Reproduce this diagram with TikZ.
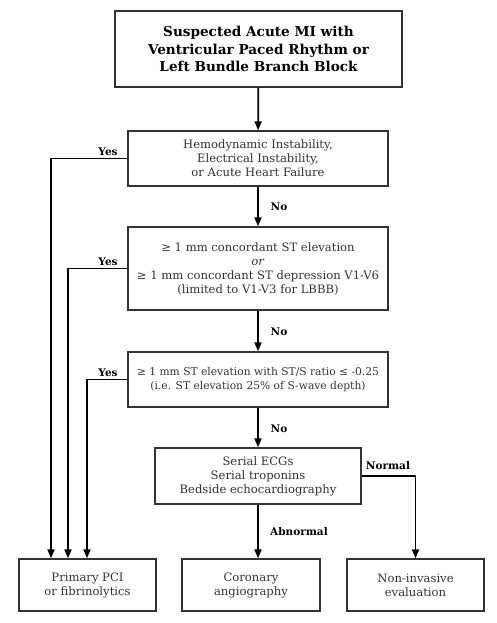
\documentclass[tikz,border=0pt]{standalone}
\usepackage{fontspec}
\setmainfont{DejaVu Serif}
\usetikzlibrary{arrows.meta}
\begin{document}
\begin{tikzpicture}[x=1pt,y=-1pt,
  box/.style={draw=black!80,line width=1.3pt,align=center,inner sep=2pt,text=black!80,font=\fontsize{11.6}{14}\selectfont},
  arr/.style={line width=1.8pt,-{Triangle[length=9pt,width=7pt]}},
  lab/.style={font=\bfseries\fontsize{10.5}{12}\selectfont,inner sep=1pt}]
\useasboundingbox (0,0) rectangle (496,623);
\node[box,minimum width=287pt,minimum height=76pt,text=black,font=\bfseries\fontsize{13.6}{17.5}\selectfont] (top) at (258.5,49) {Suspected Acute MI with\\Ventricular Paced Rhythm or\\Left Bundle Branch Block};
\node[box,minimum width=260pt,minimum height=55pt] (b2) at (258,158.5) {Hemodynamic Instability,\\Electrical Instability,\\or Acute Heart Failure};
\node[box,minimum width=260pt,minimum height=83pt] (b3) at (258,268.5) {≥ 1 mm concordant ST elevation\\\textit{or}\\≥ 1 mm concordant ST depression V1-V6\\(limited to V1-V3 for LBBB)};
\node[box,minimum width=260pt,minimum height=55pt,inner xsep=1pt,font=\fontsize{10.7}{14}\selectfont] (b4) at (258,379.5) {≥ 1 mm ST elevation with ST/S ratio ≤ -0.25\\(i.e. ST elevation 25\% of S-wave depth)};
\node[box,minimum width=206pt,minimum height=56pt] (b5) at (258,476) {Serial ECGs\\Serial troponins\\Bedside echocardiography};
\node[box,minimum width=137pt,minimum height=52pt] (pci) at (87.5,585) {Primary PCI\\or fibrinolytics};
\node[box,minimum width=138pt,minimum height=52pt] (cor) at (251,585) {Coronary\\angiography};
\node[box,minimum width=137pt,minimum height=52pt] (non) at (415.5,585) {Non-invasive\\evaluation};
\draw[arr] (top) -- (b2);
\draw[arr] (b2) -- (b3);
\draw[arr] (b3) -- (b4);
\draw[arr] (b4) -- (b5);
\draw[arr] (b5.south) -- (b5.south |- cor.north);
\draw[arr] (b5.east) -| (non.north);
\draw[arr] (b2.west) -| ([xshift=-36.5pt]pci.north);
\draw[arr] (b3.west) -| ([xshift=-19.5pt]pci.north);
\draw[arr] (b4.west) -| ([xshift=-0.5pt]pci.north);
\node[lab] (y1) at (108,152) {Yes};
\node[lab] (y2) at (108,262) {Yes};
\node[lab] (y3) at (108,373) {Yes};
\node[lab] (n1) at (279,207) {No};
\node[lab] (n2) at (279,332) {No};
\node[lab] (n3) at (279,429) {No};
\node[lab] (nm) at (388,466) {Normal};
\node[lab] (ab) at (299,532) {Abnormal};
\end{tikzpicture}
\end{document}
